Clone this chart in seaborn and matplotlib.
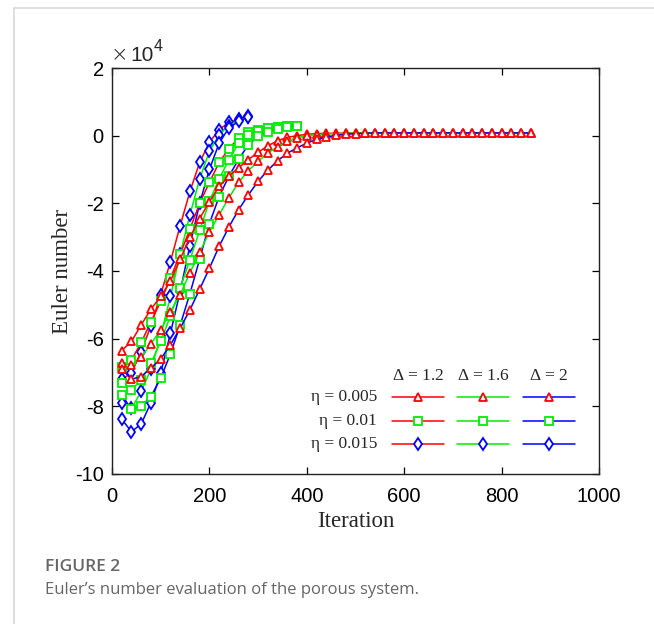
import numpy as np
import pandas as pd
import matplotlib
matplotlib.use("Agg")
import matplotlib.pyplot as plt
from matplotlib.lines import Line2D
import seaborn as sns

# ---------------- data (Euler number, units of 1e4) ----------------
iter_eta005 = np.arange(20, 861, 20)   # 43 points
iter_eta010 = np.arange(20, 381, 20)   # 19 points
iter_eta015 = np.arange(20, 281, 20)   # 14 points

# eta = 0.005 (triangles)
t_d12 = [-6.35, -6.08, -5.59, -5.13, -4.75, -4.3, -3.65, -3.0, -2.45, -1.95,
         -1.5, -1.2, -0.95, -0.71, -0.49, -0.3, -0.15, -0.05, 0.0, 0.04, 0.06,
         0.07, 0.07, 0.08, 0.08, 0.08, 0.08, 0.08, 0.08, 0.08, 0.08, 0.08,
         0.08, 0.08, 0.08, 0.08, 0.08, 0.08, 0.08, 0.08, 0.08, 0.08, 0.08]
t_d16 = [-6.73, -6.78, -6.55, -6.15, -5.74, -5.2, -4.7, -4.05, -3.45, -2.85,
         -2.34, -1.84, -1.38, -1.03, -0.76, -0.51, -0.33, -0.17, -0.06, 0.0,
         0.03, 0.05, 0.06, 0.07, 0.08, 0.08, 0.08, 0.08, 0.08, 0.08, 0.08,
         0.08, 0.08, 0.08, 0.08, 0.08, 0.08, 0.08, 0.08, 0.08, 0.08, 0.08, 0.08]
t_d20 = [-6.9, -7.2, -7.12, -6.87, -6.6, -6.18, -5.69, -5.15, -4.54, -3.92,
         -3.27, -2.7, -2.19, -1.75, -1.35, -1.02, -0.74, -0.52, -0.36, -0.22,
         -0.11, -0.04, 0.01, 0.04, 0.06, 0.07, 0.08, 0.08, 0.08, 0.08, 0.08,
         0.08, 0.08, 0.08, 0.08, 0.08, 0.08, 0.08, 0.08, 0.08, 0.08, 0.08, 0.08]

# eta = 0.01 (squares)
s_d12 = [-6.85, -6.63, -6.11, -5.5, -4.9, -4.21, -3.5, -2.76, -2.0, -1.38,
         -0.79, -0.39, -0.07, 0.1, 0.18, 0.22, 0.27, 0.3, 0.3]
s_d16 = [-7.3, -7.51, -7.22, -6.73, -6.08, -5.33, -4.5, -3.67, -2.8, -1.94,
         -1.28, -0.71, -0.22, 0.03, 0.15, 0.22, 0.26, 0.29, 0.3]
s_d20 = [-7.66, -8.09, -7.99, -7.71, -7.17, -6.45, -5.6, -4.67, -3.65, -2.6,
         -1.8, -1.2, -0.7, -0.27, -0.02, 0.12, 0.2, 0.26, 0.3]

# eta = 0.015 (diamonds)
d_d12 = [-7.2, -7.02, -6.38, -5.62, -4.7, -3.72, -2.66, -1.65, -0.79, -0.2,
         0.18, 0.39, 0.49, 0.59]
d_d16 = [-7.89, -8.06, -7.56, -6.9, -5.92, -4.75, -3.5, -2.34, -1.28, -0.46,
         0.03, 0.3, 0.45, 0.55]
d_d20 = [-8.38, -8.75, -8.52, -7.89, -7.02, -5.84, -4.6, -3.25, -2.0, -1.0,
         -0.22, 0.23, 0.42, 0.55]

delta_labels = [r"$\Delta$ = 1.2", r"$\Delta$ = 1.6", r"$\Delta$ = 2"]
eta_labels = ["\u03b7 = 0.005", "\u03b7 = 0.01", "\u03b7 = 0.015"]

# ---------------- style ----------------
sns.set_style("ticks")
plt.rcParams["font.family"] = ["Liberation Sans", "DejaVu Sans"]
plt.rcParams["axes.unicode_minus"] = False
plt.rcParams["mathtext.fontset"] = "custom"
plt.rcParams["mathtext.rm"] = "Liberation Serif"
plt.rcParams["mathtext.it"] = "Liberation Serif:italic"

line_colors = ["#ff0000", "#00ee00", "#0000ff"]
marker_colors = ["#ff0000", "#00ee00", "#0000ff"]
markers = ["^", "s", "d"]
msizes = [6.3, 5.2, 6.0]

fig = plt.figure(figsize=(6.54, 6.24), dpi=100)
ax = fig.add_axes([112 / 654, 1 - 474 / 624, 487 / 654, 406 / 624])

groups = [
    (iter_eta015, [d_d12, d_d16, d_d20], 2),
    (iter_eta010, [s_d12, s_d16, s_d20], 1),
    (iter_eta005, [t_d12, t_d16, t_d20], 0),
]
for xs, ys_list, ei in groups:
    for di, ys in enumerate(ys_list):
        df = pd.DataFrame({"Iteration": xs, "Euler": ys})
        sns.lineplot(data=df, x="Iteration", y="Euler", ax=ax,
                     color=line_colors[di], linewidth=1.1,
                     marker=markers[ei], markersize=msizes[ei],
                     markeredgecolor=marker_colors[ei],
                     markerfacecolor="white", markeredgewidth=1.3,
                     legend=False)

ax.set_xlim(0, 1000)
ax.set_ylim(-10, 2)
ax.set_xticks([0, 200, 400, 600, 800, 1000])
ax.set_yticks([2, 0, -2, -4, -6, -8, -10])
ax.set_yticklabels(["2", "0", "-2", "-4", "-6", "-8", "-10"])
ax.tick_params(direction="in", length=5, width=0.9, labelsize=14.5,
               top=True, right=True, colors="black")
ax.tick_params(axis="x", pad=9)
ax.tick_params(axis="y", pad=6)
for sp in ax.spines.values():
    sp.set_visible(True)
    sp.set_linewidth(1.0)
    sp.set_color("#222222")

ax.set_xlabel("Iteration", fontfamily="Liberation Serif", fontsize=16.5,
              labelpad=4)
ax.set_ylabel("Euler number", fontfamily="Liberation Serif", fontsize=16.5,
              labelpad=1)

# x10^4 multiplier
ax.text((111 - 112) / 487, (474 - 61) / 406, "\u00d7", transform=ax.transAxes,
        fontsize=15, ha="left", va="baseline", family="DejaVu Sans",
        fontweight="light")
ax.text((130 - 112) / 487, (474 - 61) / 406, "10", transform=ax.transAxes,
        fontsize=15, ha="left", va="baseline", family="Liberation Sans")
ax.text((154 - 112) / 487, (474 - 51) / 406, "4", transform=ax.transAxes,
        fontsize=11.5, ha="left", va="baseline", family="Liberation Sans")

# ---------------- custom legend table ----------------
def axx(px):
    return (px - 112) / 487

def axy(py):
    return (474 - py) / 406

row_y = [397.3, 421.0, 444.0]
col_x = [(391.7, 444.0), (457.0, 509.0), (522.7, 575.3)]
for j, (x0, x1) in enumerate(col_x):
    ax.text(axx((x0 + x1) / 2), axy(376), delta_labels[j],
            transform=ax.transAxes, ha="center", va="center",
            fontsize=12.5, family="Liberation Serif")
for i, yy in enumerate(row_y):
    ax.text(axx(377), axy(yy), eta_labels[i], transform=ax.transAxes,
            ha="right", va="center", fontsize=12.5, family="Liberation Serif")
    for j, (x0, x1) in enumerate(col_x):
        ax.add_line(Line2D([axx(x0), axx(x1)], [axy(yy), axy(yy)],
                           transform=ax.transAxes, color=line_colors[j],
                           linewidth=1.1))
        ax.add_line(Line2D([axx((x0 + x1) / 2)], [axy(yy)],
                           transform=ax.transAxes, linestyle="none",
                           marker=markers[i], markersize=msizes[i],
                           markeredgecolor=marker_colors[i],
                           markerfacecolor="white", markeredgewidth=1.3))

# ---------------- card frame and caption ----------------
fig.add_artist(Line2D([14 / 654, 14 / 654], [0, 1 - 8 / 624],
                      transform=fig.transFigure, color="#d9d9d9", linewidth=1.2))
fig.add_artist(Line2D([14 / 654, 1], [1 - 8 / 624, 1 - 8 / 624],
                      transform=fig.transFigure, color="#d9d9d9", linewidth=1.2))
fig.text(45 / 654, 1 - 567 / 624, "FIGURE 2", fontsize=12.5, color="#666666",
         family="Open Sans", fontweight="semibold", ha="left", va="center")
fig.text(45 / 654, 1 - 590 / 624,
         "Euler\u2019s number evaluation of the porous system.",
         fontsize=12, color="#666666", family="Open Sans", ha="left",
         va="center")

fig.savefig("out.png", dpi=100, facecolor="white")
